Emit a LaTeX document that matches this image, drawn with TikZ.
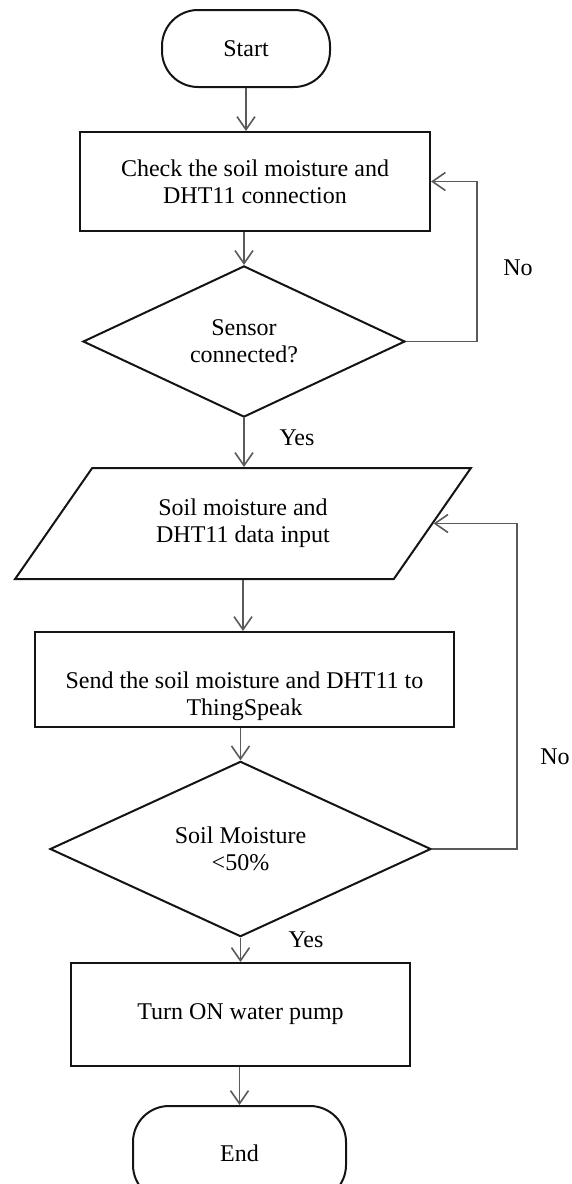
\documentclass[tikz,border=0pt]{standalone}
\usepackage{fontspec}
\setmainfont{Liberation Serif}
\usetikzlibrary{arrows.meta,positioning,shapes.geometric}
\definecolor{flowgray}{RGB}{90,90,90}
\definecolor{flowblack}{RGB}{20,20,20}

\begin{document}
\begin{tikzpicture}[x=0.5pt,y=-0.5pt,
  font=\fontsize{12}{13.5}\selectfont,
  box/.style={draw=flowblack,line width=1pt,align=center,inner sep=2pt},
  term/.style={box,rounded corners=18pt},
  proc/.style={box,rectangle},
  cond/.style={box,diamond,inner sep=0pt},
  io/.style={box,trapezium,trapezium left angle=50.7,trapezium right angle=129.3,trapezium stretches=true},
  flow/.style={draw=flowgray,line width=0.8pt,-{Straight Barb[length=6.5pt,width=9pt]}}]
\clip (0,0) rectangle (572,1184);
\node[term,minimum width=84pt,minimum height=38.5pt] (start) at (246,48.5) {Start};
\node[proc,minimum width=175pt,minimum height=49.5pt] (check) at (255,181.5) {Check the soil moisture and\\DHT11 connection};
\node[cond,minimum width=161pt,minimum height=73.5pt] (sensor) at (244,341.5) {Sensor\\connected?};
\node[io,minimum width=228pt,minimum height=55.5pt] (input) at (243,523.5) {Soil moisture and\\DHT11 data input};
\node[proc,minimum width=209.5pt,minimum height=47.5pt] (send) at (244.5,679.5) {\rule{0pt}{25pt}Send the soil moisture and DHT11 to\\ThingSpeak};
\node[cond,minimum width=190.5pt,minimum height=72pt] (moist) at (240.5,849) {Soil Moisture\\<50\%};
\node[proc,minimum width=169.5pt,minimum height=51.5pt] (pump) at (240.5,1014.5) {Turn ON water pump};
\node[term,minimum width=106.5pt,minimum height=47.5pt] (end) at (239.5,1153.5) {End};
\node (no1) at (518,268) {No};
\node (yes1) at (297,438) {Yes};
\node (no2) at (555,757) {No};
\node (yes2) at (306,940) {Yes};
\draw[flow] (start.south) -- (start.south |- check.north);
\draw[flow] (check.south -| sensor) -- (sensor.north);
\draw[flow] (sensor.south) -- (sensor.south |- input.north);
\draw[flow] (input.south) -- (input.south |- send.north);
\draw[flow] (send.south -| moist) -- (moist.north);
\draw[flow] (moist.south) -- (moist.south |- pump.north);
\draw[flow] (pump.south -| end) -- (end.north);
\draw[flow] (sensor.east) -- ++(71,0) |- (check.east);
\draw[flow] (moist.east) -- ++(85,0) |- (input.east);
\end{tikzpicture}
\end{document}
